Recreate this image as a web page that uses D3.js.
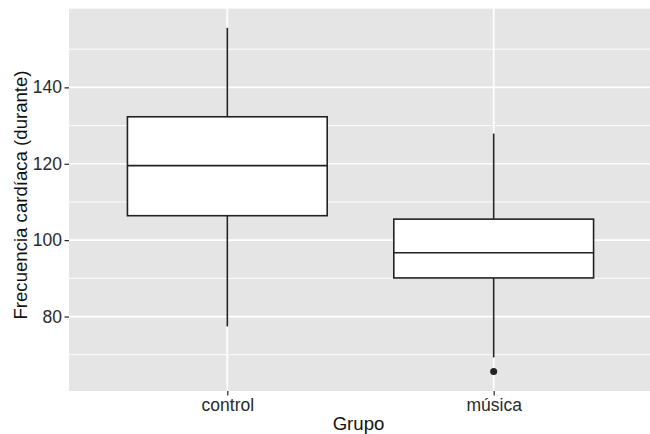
<!DOCTYPE html>
<html>
<head>
<meta charset="utf-8">
<script src="https://cdn.jsdelivr.net/npm/d3@7"></script>
<style>
  html, body { margin: 0; padding: 0; background: #fff; }
  svg { display: block; font-family: "Liberation Sans", Arial, sans-serif; }
</style>
</head>
<body>
<svg id="chart" width="650" height="434"></svg>
<script>
// Boxplot summary per group
const groups = ["control", "música"];
const lowerWhisker = [77.4, 69.3];
const q1 = [106.4, 90.1];
const median = [119.5, 96.7];
const q3 = [132.3, 105.5];
const upperWhisker = [155.6, 127.9];
const outlierGroup = ["música"];
const outlierValue = [65.6];

const yTicks = [80, 100, 120, 140];
const yMinor = [70, 90, 110, 130, 150];

const xTitle = "Grupo";
const yTitle = "Frecuencia cardíaca (durante)";

const svg = d3.select("#chart");
const panel = { left: 69, top: 8.7, right: 650, bottom: 391 };

// discrete x positions 1..n with ggplot-style 0.6 padding
const x = d3.scaleLinear().domain([0.4, 2.6]).range([67.5, 653.5]);
const xPos = g => x(groups.indexOf(g) + 1);
const y = d3.scaleLinear().domain([60.5, 160.6]).range([panel.bottom, panel.top]);

const boxHalf = (x(1.75) - x(1)) / 2;
const ink = "#222";

// panel background
svg.append("rect")
  .attr("x", panel.left).attr("y", panel.top)
  .attr("width", panel.right - panel.left).attr("height", panel.bottom - panel.top)
  .attr("fill", "#E5E5E5");

// minor grid
svg.append("g").selectAll("line").data(yMinor).join("line")
  .attr("x1", panel.left).attr("x2", panel.right)
  .attr("y1", d => y(d)).attr("y2", d => y(d))
  .attr("stroke", "#fff").attr("stroke-width", 0.9);

// major grid
svg.append("g").selectAll("line").data(yTicks).join("line")
  .attr("x1", panel.left).attr("x2", panel.right)
  .attr("y1", d => y(d)).attr("y2", d => y(d))
  .attr("stroke", "#fff").attr("stroke-width", 1.7);
svg.append("g").selectAll("line").data(groups).join("line")
  .attr("x1", d => xPos(d)).attr("x2", d => xPos(d))
  .attr("y1", panel.top).attr("y2", panel.bottom)
  .attr("stroke", "#fff").attr("stroke-width", 1.7);

// boxes
const box = svg.append("g").selectAll("g").data(groups).join("g");
box.append("line")
  .attr("x1", d => xPos(d)).attr("x2", d => xPos(d))
  .attr("y1", (d, i) => y(upperWhisker[i])).attr("y2", (d, i) => y(q3[i]))
  .attr("stroke", ink).attr("stroke-width", 1.6);
box.append("line")
  .attr("x1", d => xPos(d)).attr("x2", d => xPos(d))
  .attr("y1", (d, i) => y(q1[i])).attr("y2", (d, i) => y(lowerWhisker[i]))
  .attr("stroke", ink).attr("stroke-width", 1.6);
box.append("rect")
  .attr("x", d => xPos(d) - boxHalf).attr("width", boxHalf * 2)
  .attr("y", (d, i) => y(q3[i])).attr("height", (d, i) => y(q1[i]) - y(q3[i]))
  .attr("fill", "#fff").attr("stroke", ink).attr("stroke-width", 1.6);
box.append("line")
  .attr("x1", d => xPos(d) - boxHalf).attr("x2", d => xPos(d) + boxHalf)
  .attr("y1", (d, i) => y(median[i])).attr("y2", (d, i) => y(median[i]))
  .attr("stroke", ink).attr("stroke-width", 1.6);

// outliers
svg.append("g").selectAll("circle").data(outlierValue).join("circle")
  .attr("cx", (d, i) => xPos(outlierGroup[i])).attr("cy", d => y(d))
  .attr("r", 3.5).attr("fill", ink);

// y axis
const yAxis = svg.append("g").attr("transform", `translate(${panel.left},0)`)
  .call(d3.axisLeft(y).tickValues(yTicks).tickSize(4.5).tickPadding(2.5));
yAxis.select(".domain").remove();
yAxis.selectAll(".tick line").attr("stroke", ink).attr("stroke-width", 1.2);
yAxis.selectAll(".tick text").attr("fill", "#2a2a2a").attr("font-size", 17.5)
  .attr("font-family", "Liberation Sans, Arial, sans-serif");

// x axis
const xAxis = svg.append("g").attr("transform", `translate(0,${panel.bottom})`)
  .call(d3.axisBottom(x).tickValues(groups.map((g, i) => i + 1))
    .tickFormat(v => groups[v - 1]).tickSize(4.5).tickPadding(3));
xAxis.select(".domain").remove();
xAxis.selectAll(".tick line").attr("stroke", ink).attr("stroke-width", 1.2);
xAxis.selectAll(".tick text").attr("fill", "#2a2a2a").attr("font-size", 17.5)
  .attr("font-family", "Liberation Sans, Arial, sans-serif");

// titles
svg.append("text")
  .attr("x", (panel.left + panel.right) / 2 - 1).attr("y", 429.5)
  .attr("text-anchor", "middle").attr("font-size", 18.6).attr("fill", "#111")
  .text(xTitle);
svg.append("text")
  .attr("transform", `translate(27,195) rotate(-90)`)
  .attr("text-anchor", "middle").attr("font-size", 18.6).attr("fill", "#111")
  .text(yTitle);
</script>
</body>
</html>
